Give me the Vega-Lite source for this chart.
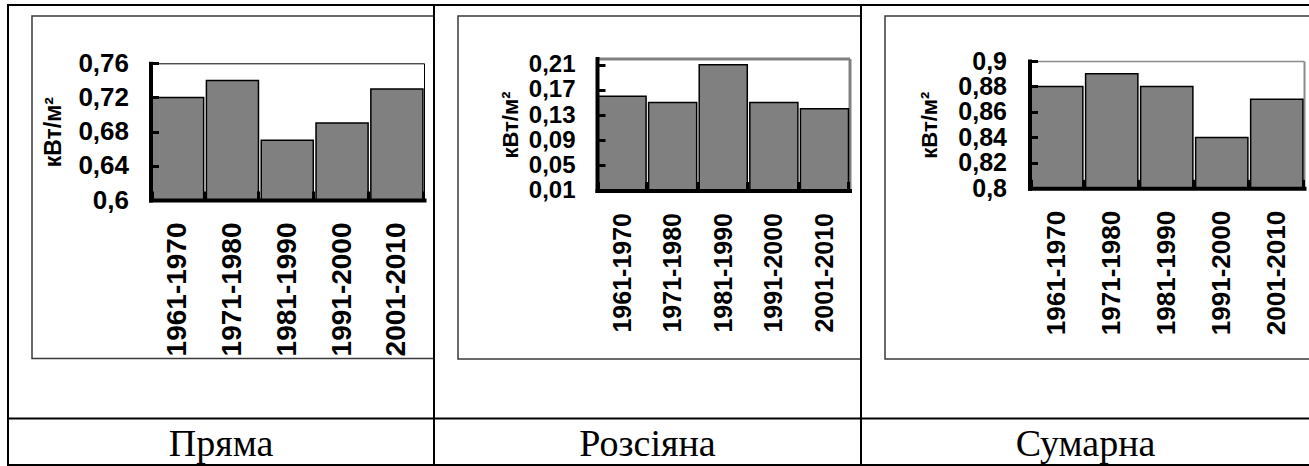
{
  "$schema": "https://vega.github.io/schema/vega-lite/v6.json",
  "background": "white",
  "padding": {"left": -7, "top": 4, "right": -2, "bottom": 0},
  "datasets": {
    "direct": [
      {"period": "1961-1970", "value": 0.72},
      {"period": "1971-1980", "value": 0.74},
      {"period": "1981-1990", "value": 0.67},
      {"period": "1991-2000", "value": 0.69},
      {"period": "2001-2010", "value": 0.73}
    ],
    "diffuse": [
      {"period": "1961-1970", "value": 0.16},
      {"period": "1971-1980", "value": 0.15},
      {"period": "1981-1990", "value": 0.21},
      {"period": "1991-2000", "value": 0.15},
      {"period": "2001-2010", "value": 0.14}
    ],
    "total": [
      {"period": "1961-1970", "value": 0.88},
      {"period": "1971-1980", "value": 0.89},
      {"period": "1981-1990", "value": 0.88},
      {"period": "1991-2000", "value": 0.84},
      {"period": "2001-2010", "value": 0.87}
    ]
  },
  "config": {
    "view": {"stroke": "#000", "strokeWidth": 2},
    "axis": {
      "labelFont": "Liberation Sans", "labelFontWeight": "bold", "labelColor": "#000",
      "titleFont": "Liberation Sans", "titleFontWeight": "bold", "titleColor": "#000",
      "domainColor": "#000", "tickColor": "#000", "grid": false,
      "labelOverlap": false, "labelBound": false, "labelFlush": false
    }
  },
  "spacing": 0,
  "bounds": "flush",
  "hconcat": [
    {
      "width": 426, "height": 460,
      "data": {"name": "direct"},
      "resolve": {"scale": {"x": "independent", "y": "independent"}},
      "layer": [
        {
          "data": {"values": [{}]},
          "mark": {"type": "rect", "filled": false, "stroke": "#3a3a3a", "strokeWidth": 1.5, "clip": true},
          "encoding": {
            "x": {"datum": 0, "type": "quantitative", "scale": {"domain": [0, 1], "range": [24, 460], "nice": false, "zero": false}, "axis": null},
            "x2": {"datum": 1},
            "y": {"datum": 0, "type": "quantitative", "scale": {"domain": [0, 1], "range": [11, 353.5], "nice": false, "zero": false}, "axis": null},
            "y2": {"datum": 1}
          }
        },
        {
          "mark": {"type": "bar", "fill": "#808080", "stroke": "#000", "strokeWidth": 1.5},
          "encoding": {
            "x": {"field": "period", "type": "nominal", "sort": null,
              "scale": {"domain": ["1961-1970", "1971-1980", "1981-1990", "1991-2000", "2001-2010"], "range": [142.5, 416], "paddingInner": 0.05, "paddingOuter": 0.02},
              "axis": {"orient": "bottom", "offset": -265, "title": null, "labelAngle": -90, "labelAlign": "right", "labelBaseline": "middle", "labelFontSize": 28, "labelPadding": 31, "domainWidth": 4, "domainCap": "square", "tickBand": "extent", "tickSize": -9, "tickWidth": 3, "zindex": 1}},
            "y": {"field": "value", "type": "quantitative",
              "scale": {"domain": [0.6, 0.76], "range": [195, 58.3], "zero": false, "nice": false},
              "axis": {"orient": "left", "offset": -142.5, "values": [0.6, 0.64, 0.68, 0.72, 0.76], "labelExpr": "replace(format(datum.value, '.2~f'), '.', ',')", "labelFontSize": 26, "labelPadding": 30, "title": "кВт/м²", "titleFontSize": 23, "titlePadding": 12, "domainWidth": 4, "domainCap": "square", "tickSize": -8, "tickWidth": 3, "zindex": 1}},
            "y2": {"datum": 0.6}
          }
        },
        {
          "mark": {"type": "bar", "opacity": 0},
          "encoding": {
            "x": {"field": "period", "type": "nominal", "sort": null,
              "scale": {"domain": ["1961-1970", "1971-1980", "1981-1990", "1991-2000", "2001-2010"], "range": [142.5, 416], "paddingInner": 0.05, "paddingOuter": 0.02},
              "axis": {"orient": "top", "offset": -58.3, "title": null, "labels": false, "ticks": false, "domainWidth": 1, "domainColor": "#000"}},
            "y": {"field": "value", "type": "quantitative",
              "scale": {"domain": [0.6, 0.76], "range": [195, 58.3], "zero": false, "nice": false},
              "axis": {"orient": "right", "offset": -10, "title": null, "labels": false, "ticks": false, "domainWidth": 1, "domainColor": "#000"}},
            "y2": {"datum": 0.6}
          }
        },
        {
          "data": {"values": [{"t": "Пряма"}]},
          "mark": {"type": "text", "font": "Liberation Serif", "fontSize": 38, "baseline": "alphabetic", "dy": 14.5, "color": "#000"},
          "encoding": {
            "x": {"datum": 0.5, "type": "quantitative", "scale": {"domain": [0, 1], "range": [0, 426], "nice": false, "zero": false},
              "axis": {"orient": "bottom", "offset": -47, "title": null, "labels": false, "ticks": false, "domainWidth": 2, "domainColor": "#000"}},
            "y": {"datum": 0.5, "type": "quantitative", "scale": {"domain": [0, 1], "range": [413, 460], "nice": false, "zero": false}, "axis": null},
            "text": {"field": "t"}
          }
        }
      ]
    },
    {
      "width": 427, "height": 460,
      "data": {"name": "diffuse"},
      "resolve": {"scale": {"x": "independent", "y": "independent"}},
      "layer": [
        {
          "data": {"values": [{}]},
          "mark": {"type": "rect", "filled": false, "stroke": "#3a3a3a", "strokeWidth": 1.5, "clip": true},
          "encoding": {
            "x": {"datum": 0, "type": "quantitative", "scale": {"domain": [0, 1], "range": [24, 460], "nice": false, "zero": false}, "axis": null},
            "x2": {"datum": 1},
            "y": {"datum": 0, "type": "quantitative", "scale": {"domain": [0, 1], "range": [11, 354], "nice": false, "zero": false}, "axis": null},
            "y2": {"datum": 1}
          }
        },
        {
          "mark": {"type": "bar", "fill": "#808080", "stroke": "#000", "strokeWidth": 1.5},
          "encoding": {
            "x": {"field": "period", "type": "nominal", "sort": null,
              "scale": {"domain": ["1961-1970", "1971-1980", "1981-1990", "1991-2000", "2001-2010"], "range": [163, 415.5], "paddingInner": 0.05, "paddingOuter": 0.02},
              "axis": {"orient": "bottom", "offset": -274.5, "title": null, "labelAngle": -90, "labelAlign": "right", "labelBaseline": "middle", "labelFontSize": 25, "labelPadding": 31, "domainWidth": 4, "domainCap": "square", "tickBand": "extent", "tickSize": -9, "tickWidth": 3, "zindex": 1}},
            "y": {"field": "value", "type": "quantitative",
              "scale": {"domain": [0.01, 0.22], "range": [185.5, 53.5], "zero": false, "nice": false},
              "axis": {"orient": "left", "offset": -163, "values": [0.01, 0.05, 0.09, 0.13, 0.17, 0.21], "labelExpr": "replace(format(datum.value, '.2~f'), '.', ',')", "labelFontSize": 24, "labelPadding": 30, "title": "кВт/м²", "titleFontSize": 22, "titlePadding": 6, "domainWidth": 4, "domainCap": "square", "tickSize": -8, "tickWidth": 3, "zindex": 1}},
            "y2": {"datum": 0.01}
          }
        },
        {
          "mark": {"type": "bar", "opacity": 0},
          "encoding": {
            "x": {"field": "period", "type": "nominal", "sort": null,
              "scale": {"domain": ["1961-1970", "1971-1980", "1981-1990", "1991-2000", "2001-2010"], "range": [163, 415.5], "paddingInner": 0.05, "paddingOuter": 0.02},
              "axis": {"orient": "top", "offset": -53.5, "title": null, "labels": false, "ticks": false, "domainWidth": 3, "domainColor": "#808080"}},
            "y": {"field": "value", "type": "quantitative",
              "scale": {"domain": [0.01, 0.22], "range": [185.5, 53.5], "zero": false, "nice": false},
              "axis": {"orient": "right", "offset": -11.5, "title": null, "labels": false, "ticks": false, "domainWidth": 3, "domainColor": "#808080"}},
            "y2": {"datum": 0.01}
          }
        },
        {
          "data": {"values": [{"t": "Розсіяна"}]},
          "mark": {"type": "text", "font": "Liberation Serif", "fontSize": 38, "baseline": "alphabetic", "dy": 14.5, "color": "#000"},
          "encoding": {
            "x": {"datum": 0.5, "type": "quantitative", "scale": {"domain": [0, 1], "range": [0, 427], "nice": false, "zero": false},
              "axis": {"orient": "bottom", "offset": -47, "title": null, "labels": false, "ticks": false, "domainWidth": 2, "domainColor": "#000"}},
            "y": {"datum": 0.5, "type": "quantitative", "scale": {"domain": [0, 1], "range": [413, 460], "nice": false, "zero": false}, "axis": null},
            "text": {"field": "t"}
          }
        }
      ]
    },
    {
      "width": 449, "height": 460,
      "data": {"name": "total"},
      "resolve": {"scale": {"x": "independent", "y": "independent"}},
      "layer": [
        {
          "data": {"values": [{}]},
          "mark": {"type": "rect", "filled": false, "stroke": "#3a3a3a", "strokeWidth": 1.5, "clip": true},
          "encoding": {
            "x": {"datum": 0, "type": "quantitative", "scale": {"domain": [0, 1], "range": [24, 480], "nice": false, "zero": false}, "axis": null},
            "x2": {"datum": 1},
            "y": {"datum": 0, "type": "quantitative", "scale": {"domain": [0, 1], "range": [11, 354], "nice": false, "zero": false}, "axis": null},
            "y2": {"datum": 1}
          }
        },
        {
          "mark": {"type": "bar", "fill": "#808080", "stroke": "#000", "strokeWidth": 1.5},
          "encoding": {
            "x": {"field": "period", "type": "nominal", "sort": null,
              "scale": {"domain": ["1961-1970", "1971-1980", "1981-1990", "1991-2000", "2001-2010"], "range": [168.5, 443], "paddingInner": 0.05, "paddingOuter": 0.02},
              "axis": {"orient": "bottom", "offset": -276.7, "title": null, "labelAngle": -90, "labelAlign": "right", "labelBaseline": "middle", "labelFontSize": 26, "labelPadding": 31, "domainWidth": 4, "domainCap": "square", "tickBand": "extent", "tickSize": -9, "tickWidth": 3, "zindex": 1}},
            "y": {"field": "value", "type": "quantitative",
              "scale": {"domain": [0.8, 0.9], "range": [183.3, 56], "zero": false, "nice": false},
              "axis": {"orient": "left", "offset": -168.5, "values": [0.8, 0.82, 0.84, 0.86, 0.88, 0.9], "labelExpr": "replace(format(datum.value, '.2~f'), '.', ',')", "labelFontSize": 25, "labelPadding": 31, "title": "кВт/м²", "titleFontSize": 22, "titlePadding": 16, "domainWidth": 4, "domainCap": "square", "tickSize": -8, "tickWidth": 3, "zindex": 1}},
            "y2": {"datum": 0.8}
          }
        },
        {
          "mark": {"type": "bar", "opacity": 0},
          "encoding": {
            "x": {"field": "period", "type": "nominal", "sort": null,
              "scale": {"domain": ["1961-1970", "1971-1980", "1981-1990", "1991-2000", "2001-2010"], "range": [168.5, 443], "paddingInner": 0.05, "paddingOuter": 0.02},
              "axis": {"orient": "top", "offset": -56, "title": null, "labels": false, "ticks": false, "domainWidth": 1.5, "domainColor": "#8a8a8a"}},
            "y": {"field": "value", "type": "quantitative",
              "scale": {"domain": [0.8, 0.9], "range": [183.3, 56], "zero": false, "nice": false},
              "axis": {"orient": "right", "offset": -6, "title": null, "labels": false, "ticks": false, "domainWidth": 2, "domainColor": "#8a8a8a"}},
            "y2": {"datum": 0.8}
          }
        },
        {
          "data": {"values": [{"t": "Сумарна"}]},
          "mark": {"type": "text", "font": "Liberation Serif", "fontSize": 38, "baseline": "alphabetic", "dy": 14.5, "color": "#000"},
          "encoding": {
            "x": {"datum": 0.5, "type": "quantitative", "scale": {"domain": [0, 1], "range": [0, 449], "nice": false, "zero": false},
              "axis": {"orient": "bottom", "offset": -47, "title": null, "labels": false, "ticks": false, "domainWidth": 2, "domainColor": "#000"}},
            "y": {"datum": 0.5, "type": "quantitative", "scale": {"domain": [0, 1], "range": [413, 460], "nice": false, "zero": false}, "axis": null},
            "text": {"field": "t"}
          }
        }
      ]
    }
  ]
}
